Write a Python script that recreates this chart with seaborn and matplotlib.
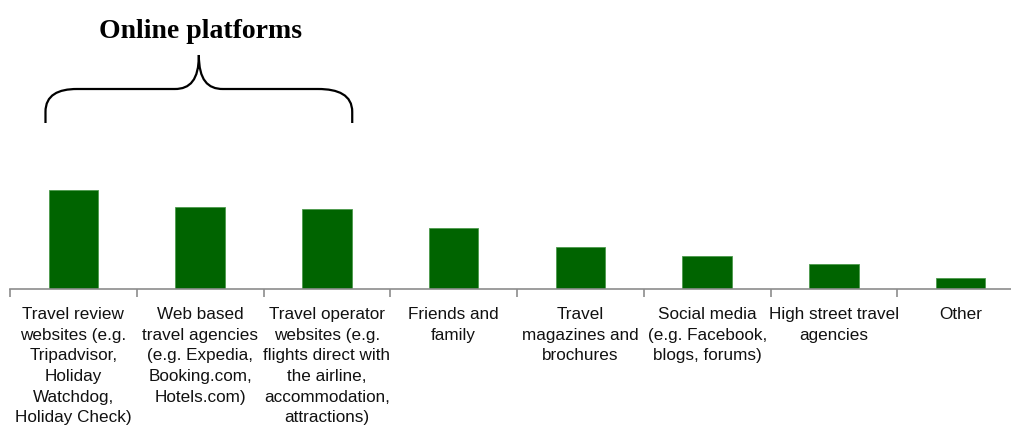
import matplotlib
matplotlib.use("Agg")
import matplotlib.pyplot as plt
import matplotlib.transforms as mtransforms
from matplotlib.path import Path
from matplotlib.patches import PathPatch
import seaborn as sns
import pandas as pd

categories = [
    "Travel review\nwebsites (e.g.\nTripadvisor,\nHoliday\nWatchdog,\nHoliday Check)",
    "Web based\ntravel agencies\n(e.g. Expedia,\nBooking.com,\nHotels.com)",
    "Travel operator\nwebsites (e.g.\nflights direct with\nthe airline,\naccommodation,\nattractions)",
    "Friends and\nfamily",
    "Travel\nmagazines and\nbrochures",
    "Social media\n(e.g. Facebook,\nblogs, forums)",
    "High street travel\nagencies",
    "Other",
]
values = [40.0, 33.1, 32.3, 24.6, 17.0, 13.3, 10.1, 4.4]
group_title = "Online platforms"

sns.set_theme(style="white")
plt.rcParams["font.family"] = ["Liberation Sans", "DejaVu Sans"]

df = pd.DataFrame({"source": categories, "share": values})

fig = plt.figure(figsize=(10.11, 4.28), dpi=100)
W, H = 1011, 428
ax = fig.add_axes([10 / W, 1 - 289 / H, 1014 / W, 139 / H])

sns.barplot(data=df, x="source", y="share", order=categories, color="#006400",
            width=0.39, saturation=1, edgecolor="#4c9a4c", linewidth=0.6, ax=ax)

ax.set_xlim(-0.5, len(categories) - 0.5)
ax.set_ylim(0, 56.2)
ax.set_xlabel("")
ax.set_ylabel("")
ax.set_yticks([])
for s in ["top", "right", "left"]:
    ax.spines[s].set_visible(False)
ax.spines["bottom"].set_color("#8c8c8c")
ax.spines["bottom"].set_linewidth(1.2)

# labels at centres, tick marks at category boundaries
ax.set_xticks(range(len(categories)))
ax.set_xticklabels(categories, fontsize=12.3, color="#111111", linespacing=1.47,
                   va="top")
ax.tick_params(axis="x", which="major", length=0, pad=13)
ax.set_xticks([i - 0.5 for i in range(len(categories) + 1)], minor=True)
ax.tick_params(axis="x", which="minor", length=6, width=1.2, color="#8c8c8c",
               direction="out", bottom=True)

# curly brace over the online platforms (bars 0-2)
trans = mtransforms.blended_transform_factory(ax.transData, fig.transFigure)
def fy(px):
    return 1 - px / H
verts = [
    (-0.22, fy(123)), (-0.22, fy(112)),
    (-0.22, fy(95)), (-0.12, fy(89)), (0.03, fy(89)),
    (0.80, fy(89)),
    (0.92, fy(89)), (0.99, fy(80)), (0.99, fy(55)),
    (0.99, fy(80)), (1.06, fy(89)), (1.18, fy(89)),
    (1.93, fy(89)),
    (2.09, fy(89)), (2.20, fy(95)), (2.20, fy(112)),
    (2.20, fy(123)),
]
codes = [Path.MOVETO, Path.LINETO,
         Path.CURVE4, Path.CURVE4, Path.CURVE4,
         Path.LINETO,
         Path.CURVE4, Path.CURVE4, Path.CURVE4,
         Path.CURVE4, Path.CURVE4, Path.CURVE4,
         Path.LINETO,
         Path.CURVE4, Path.CURVE4, Path.CURVE4,
         Path.LINETO]
ax.add_patch(PathPatch(Path(verts, codes), transform=trans, fill=False,
                       edgecolor="black", linewidth=1.6, clip_on=False))

ax.text(1.0, fy(32), group_title, transform=trans, ha="center", va="center",
        fontsize=20, fontweight="bold", color="black",
        family=["Liberation Serif", "DejaVu Serif"])

fig.savefig("out.png", dpi=100)
